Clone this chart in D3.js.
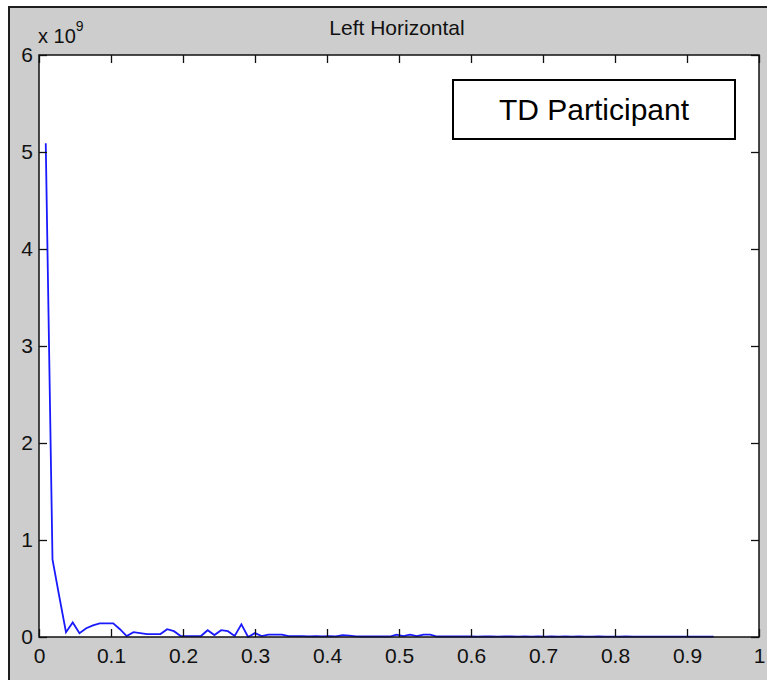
<html lang="en">
    <head>
        <meta charset="utf-8">
        <title>Left Horizontal</title>
        <style>
        body { margin: 0; background: white; }
        svg text { font-family: "Liberation Sans", Arial, sans-serif; }
        </style>
        <script type="text/javascript" src="https://d3js.org/d3.v7.min.js"></script>
    </head>
    <body>
    <svg width="767" height="680" id="chart"></svg>
    <script type="text/javascript">

// power spectrum values (x 10^9), one per frequency bin
var power = [
  5.09, 0.80, 0.42, 0.05, 0.15, 0.04, 0.09, 0.12, 0.14, 0.14,
  0.14, 0.08, 0.01, 0.05, 0.04, 0.03, 0.03, 0.03, 0.08, 0.06,
  0.01, 0.01, 0.01, 0.01, 0.07, 0.02, 0.07, 0.06, 0.01, 0.13,
  0.00, 0.04, 0.01, 0.025, 0.025, 0.025, 0.01, 0.008, 0.008, 0.006,
  0.008, 0.006, 0.008, 0.006, 0.02, 0.015, 0.006, 0.005, 0.007, 0.005,
  0.006, 0.005, 0.025, 0.01, 0.025, 0.01, 0.025, 0.025, 0.005, 0.006,
  0.005, 0.007, 0.005, 0.006, 0.004, 0.006, 0.005, 0.004, 0.006, 0.005,
  0.004, 0.005, 0.004, 0.006, 0.004, 0.005, 0.004, 0.005, 0.003, 0.005,
  0.004, 0.003, 0.005, 0.004, 0.003, 0.004, 0.005, 0.003, 0.004, 0.003,
  0.004, 0.003, 0.004, 0.003, 0.004, 0.003, 0.003, 0.004, 0.003, 0.003
];
// spacing of the frequency bins (first bin is one step from 0)
var freqStep = 0.00937;

var xTicks = [0, 0.1, 0.2, 0.3, 0.4, 0.5, 0.6, 0.7, 0.8, 0.9, 1];
var yTicks = [0, 1, 2, 3, 4, 5, 6];
var chartTitle = "Left Horizontal";
var legendText = "TD Participant";

var data = power.map(function(p, i) { return {f: (i + 1) * freqStep, p: p}; });

var margin = {top: 55, right: 8, bottom: 43, left: 39}
  , width = 767 - margin.left - margin.right
  , height = 680 - margin.top - margin.bottom;

var svg = d3.select("#chart");

// figure background (grey panel, dark frame top/left)
svg.append("rect").attr("x", 9).attr("y", 7).attr("width", 767).attr("height", 680)
  .style("fill", "#cdcdcd");
svg.append("path").attr("d", "M9,680V7H767")
  .style("fill", "none").style("stroke", "#1e1e1e").style("stroke-width", 2);

var g = svg.append("g")
  .attr("transform", "translate(" + margin.left + "," + margin.top + ")");

var x = d3.scaleLinear().domain([0, 1]).range([0, width]);
var y = d3.scaleLinear().domain([0, 6]).range([height, 0]);

g.append("rect").attr("width", width).attr("height", height).style("fill", "white");

// the spectrum
var line = d3.line()
  .x(function(d) { return x(d.f); })
  .y(function(d) { return y(d.p); });

g.append("path")
  .datum(data)
  .attr("d", line)
  .style("fill", "none")
  .style("stroke", "#1a1aff")
  .style("stroke-width", 1.8);

// axes, ticks pointing inward on all four sides
function styleAxis(sel) {
  sel.select(".domain").remove();
  sel.selectAll("line").style("stroke", "#111").style("stroke-width", 1.3);
  sel.selectAll("text").style("font-size", "21px").style("fill", "#111")
    .style("font-family", "'Liberation Sans', Arial, sans-serif");
}

var fmt = function(d) { return String(d); };

g.append("g")
  .attr("transform", "translate(0," + height + ")")
  .call(d3.axisBottom(x).tickValues(xTicks).tickSize(-8).tickPadding(11).tickFormat(fmt))
  .call(styleAxis);

g.append("g")
  .call(d3.axisLeft(y).tickValues(yTicks).tickSize(-8).tickPadding(6).tickFormat(fmt))
  .call(styleAxis);

g.append("g")
  .call(d3.axisTop(x).tickValues(xTicks).tickSize(-8).tickFormat(""))
  .call(styleAxis);

g.append("g")
  .attr("transform", "translate(" + width + ",0)")
  .call(d3.axisRight(y).tickValues(yTicks).tickSize(-8).tickFormat(""))
  .call(styleAxis);

// plot box
g.append("rect").attr("width", width).attr("height", height)
  .style("fill", "none").style("stroke", "#111").style("stroke-width", 1.5);

// exponent label
var expo = g.append("text").attr("x", -1).attr("y", -12)
  .style("font-size", "20px").style("fill", "#111");
expo.append("tspan").text("x 10");
expo.append("tspan").attr("dy", -12).style("font-size", "14px").text("9");

// title
g.append("text")
  .attr("x", width / 2 - 2)
  .attr("y", -20)
  .attr("text-anchor", "middle")
  .style("font-size", "21px")
  .style("fill", "#111")
  .text(chartTitle);

// legend box
var legend = g.append("g").attr("transform", "translate(" + (width - 306) + ",25)");
legend.append("rect").attr("width", 282).attr("height", 59)
  .style("fill", "white").style("stroke", "black").style("stroke-width", 2);
legend.append("text")
  .attr("x", 141).attr("y", 40)
  .attr("text-anchor", "middle")
  .style("font-size", "30px")
  .style("fill", "black")
  .text(legendText);

    </script>
    </body>
</html>
